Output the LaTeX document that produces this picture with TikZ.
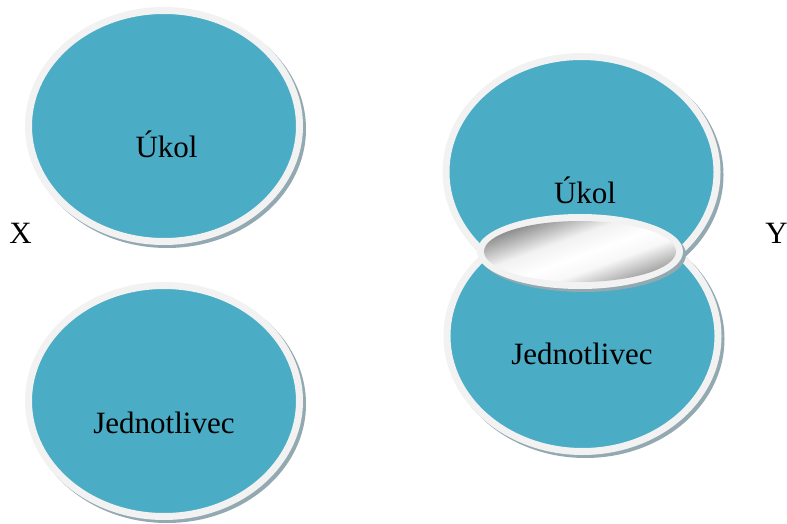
\documentclass[tikz,border=0pt]{standalone}
\usepackage{fontspec}
\setmainfont{Liberation Serif}
\definecolor{discblue}{HTML}{4BACC6}
\definecolor{discrim}{HTML}{F2F2F2}
\definecolor{discshadow}{HTML}{93A9B2}
\definecolor{lensdark}{HTML}{8E8E8E}
\definecolor{lensmid}{HTML}{A4A4A4}
% silvery gradient for the lens where the two discs meet
\pgfdeclarehorizontalshading{lensgrad}{100bp}{%
  color(0bp)=(lensdark); color(39bp)=(lensdark); color(46bp)=(white!88!lensdark);
  color(51bp)=(white); color(55bp)=(white!92!lensmid); color(61bp)=(lensmid); color(100bp)=(lensmid)}
\tikzset{
  discshade/.style={fill=discshadow},
  discbody/.style={fill=discblue, draw=discrim, line width=3.5pt},
  lensbody/.style={fill=discrim},
  lensglass/.style={shading=lensgrad, shading angle=-70},
  disclabel/.style={anchor=base, font=\fontsize{15.5}{18}\selectfont, inner sep=0pt},
}
\begin{document}
\begin{tikzpicture}[x=0.5pt,y=-0.5pt]
  \useasboundingbox (0,0) rectangle (787,524);
  % left column: two separate discs
  \fill[discshade] (167,129) ellipse [x radius=139, y radius=119];
  \path[discbody] (164,126) ellipse [x radius=135.5, y radius=115.5];
  \fill[discshade] (167,404) ellipse [x radius=139, y radius=119];
  \path[discbody] (164,401) ellipse [x radius=135.5, y radius=115.5];
  \node[disclabel] (ukolA) at (166.5,157) {Úkol};
  \node[disclabel] (jednA) at (164,433) {Jednotlivec};
  % right column: two overlapping discs joined by a lens
  \fill[discshade] (584.5,175) ellipse [x radius=139, y radius=119];
  \path[discbody] (581.5,172) ellipse [x radius=135.5, y radius=115.5];
  \fill[discshade] (585.5,339) ellipse [x radius=139, y radius=119];
  \path[discbody] (582.5,336) ellipse [x radius=135.5, y radius=115.5];
  \fill[discshade] (583,254.5) ellipse [x radius=103, y radius=37.5];
  \fill[lensbody] (580,251.5) ellipse [x radius=103, y radius=37.5];
  \begin{scope}
    \clip (580,251.5) ellipse [x radius=96, y radius=30.5];
    \shade[lensglass] (480,151.5) rectangle (680,351.5);
  \end{scope}
  \node[disclabel] (ukolB) at (585,203) {Úkol};
  \node[disclabel] (jednB) at (582,364) {Jednotlivec};
  % side letters
  \node[disclabel] (labX) at (20.5,243) {X};
  \node[disclabel] (labY) at (776.5,243) {Y};
\end{tikzpicture}
\end{document}
